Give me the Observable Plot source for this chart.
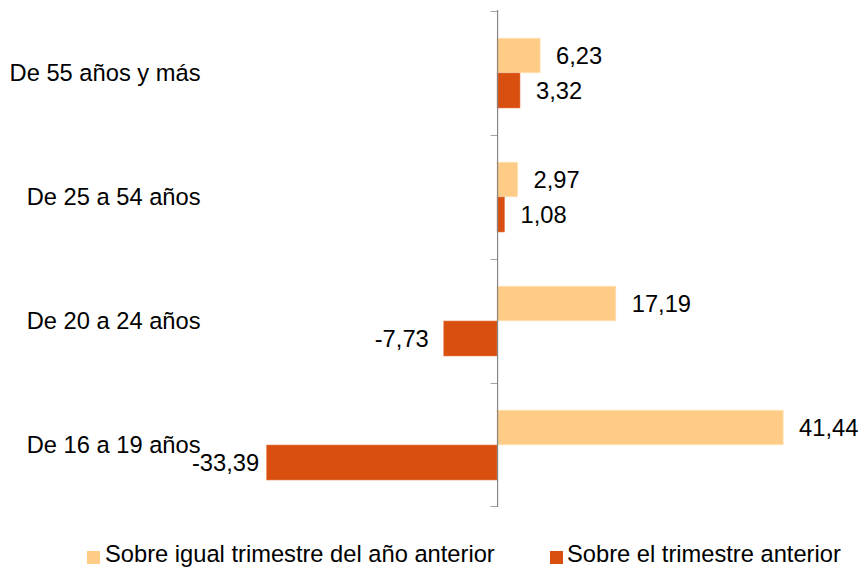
<!DOCTYPE html>
<html>
<head>
<meta charset="utf-8">
<script src="https://cdn.jsdelivr.net/npm/d3@7"></script>
<script src="https://cdn.jsdelivr.net/npm/@observablehq/plot@0.6"></script>
<style>
  body { margin: 0; background: #fff; }
  #wrap { width: 861px; position: relative; font-family: "Liberation Sans", Arial, sans-serif; }
  svg { display: block; }
  #legend { position: relative; width: 861px; height: 50px; font-size: 23.7px; color: #000; }
  #legend .sw { position: absolute; width: 12.5px; height: 12.5px; top: 31px; }
  #legend .lb { position: absolute; top: 23px; line-height: 1; white-space: nowrap; }
</style>
</head>
<body>
<div id="wrap"></div>
<script>
const categories = ["De 55 años y más", "De 25 a 54 años", "De 20 a 24 años", "De 16 a 19 años"];
const seriesNames = ["Sobre igual trimestre del año anterior", "Sobre el trimestre anterior"];
const yearOverYear = [6.23, 2.97, 17.19, 41.44];
const quarterOverQuarter = [3.32, 1.08, -7.73, -33.39];
const colors = ["#FFCC88", "#D84F0F"];

const W = 861, H = 520, mt = 10, mb = 13;
const band = (H - mt - mb) / categories.length;
const fmt = v => v.toFixed(2).replace(".", ",");

const rowsA = categories.map((c, i) => ({cat: c, value: yearOverYear[i]}));
const rowsB = categories.map((c, i) => ({cat: c, value: quarterOverQuarter[i]}));

const fontSize = "23.7px";

function labels(rows, dy) {
  const common = {y: "cat", x: "value", text: d => fmt(d.value), dy, fill: "#000", fontSize: fontSize};
  return [
    Plot.text(rows.filter(d => d.value >= 0), {...common, dx: 15.5, textAnchor: "start"}),
    Plot.text(rows.filter(d => d.value < 0 && d.value > -20), {...common, dx: -15.5, textAnchor: "end"}),
    Plot.text(rows.filter(d => d.value <= -20), {...common, dx: -8, textAnchor: "end"})
  ];
}

const chart = Plot.plot({
  width: W,
  height: H,
  marginTop: mt,
  marginBottom: mb,
  marginLeft: 221,
  marginRight: 5,
  style: {fontFamily: "'Liberation Sans', Arial, sans-serif", fontSize: fontSize, color: "#000", background: "#fff"},
  x: {domain: [-40, 52], axis: null},
  y: {domain: categories, padding: 0, label: null},
  marks: [
    Plot.axisY({tickSize: 0, tickPadding: 21, fontSize: fontSize, fill: "#000"}),
    Plot.barX(rowsA, {y: "cat", x: "value", fill: colors[0], stroke: "#FFE0B0", strokeWidth: 0.8, insetTop: 27.3, insetBottom: band - 62}),
    Plot.barX(rowsB, {y: "cat", x: "value", fill: colors[1], stroke: "#E8845A", strokeWidth: 0.6, insetTop: 62, insetBottom: 27}),
    Plot.barX(categories, {y: d => d, x1: -0.95, x2: 0, fill: "#868686", insetBottom: band - 1}),
    Plot.barX(categories.slice(-1), {y: d => d, x1: -0.95, x2: 0, fill: "#868686", insetTop: band - 1}),
    Plot.ruleX([0], {stroke: "#868686", strokeWidth: 1.2}),
    ...labels(rowsA, -17.5),
    ...labels(rowsB, 17.5)
  ]
});

const wrap = document.getElementById("wrap");
wrap.appendChild(chart);

const legend = document.createElement("div");
legend.id = "legend";
const items = [{sw: 87, lb: 105}, {sw: 550, lb: 567}];
seriesNames.forEach((name, i) => {
  const sw = document.createElement("span");
  sw.className = "sw";
  sw.style.left = items[i].sw + "px";
  sw.style.background = colors[i];
  const lb = document.createElement("span");
  lb.className = "lb";
  lb.style.left = items[i].lb + "px";
  lb.textContent = name;
  legend.appendChild(sw);
  legend.appendChild(lb);
});
wrap.appendChild(legend);
</script>
</body>
</html>
